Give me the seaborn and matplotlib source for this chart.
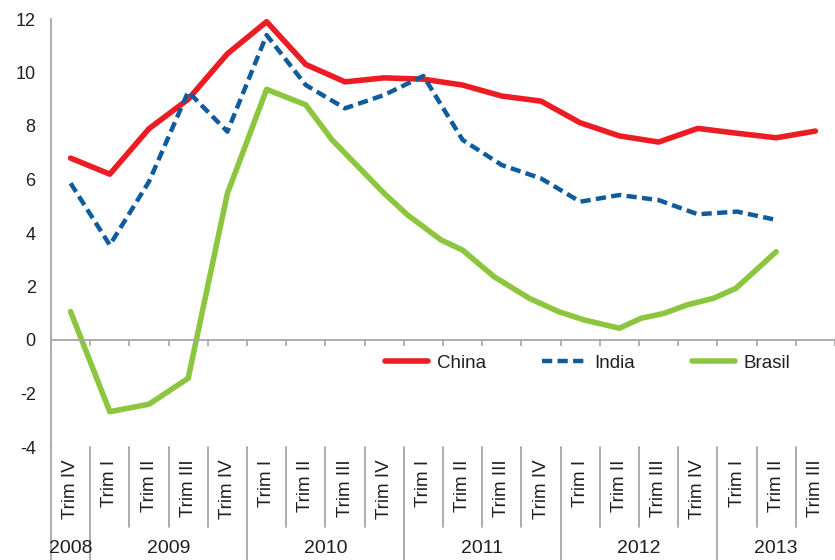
import numpy as np
import pandas as pd
import matplotlib
matplotlib.use("Agg")
import matplotlib.pyplot as plt
import matplotlib.transforms as mtransforms
import seaborn as sns

# ---- data ----
quarters = ["Trim IV",
            "Trim I", "Trim II", "Trim III", "Trim IV",
            "Trim I", "Trim II", "Trim III", "Trim IV",
            "Trim I", "Trim II", "Trim III", "Trim IV",
            "Trim I", "Trim II", "Trim III", "Trim IV",
            "Trim I", "Trim II", "Trim III"]
years = ["2008", "2009", "2010", "2011", "2012", "2013"]
year_counts = [1, 4, 4, 4, 4, 3]

china = [6.8, 6.2, 7.9, 9.0, 10.7, 11.9, 10.3, 9.65, 9.8, 9.75,
         9.53, 9.12, 8.93, 8.12, 7.63, 7.4, 7.91, 7.73, 7.56, 7.81]
india = [5.86, 3.55, 5.92, 9.28, 7.79, 11.4, 9.53, 8.66, 9.16, 9.87,
         7.48, 6.54, 6.04, 5.17, 5.42, 5.23, 4.7, 4.8, 4.49]
brasil_pos = [0, 1, 2, 3, 4, 5, 6, 6.67, 8, 8.6, 9.45, 10, 10.8, 11.7,
              12.45, 13.1, 14, 14.55, 15.15, 15.72, 16.4, 16.97, 18]
brasil = [1.06, -2.68, -2.40, -1.43, 5.48, 9.37, 8.79, 7.48, 5.48, 4.67,
          3.74, 3.36, 2.37, 1.56, 1.06, 0.75, 0.44, 0.81, 1.0, 1.31,
          1.56, 1.93, 3.30]

df_china = pd.DataFrame({"pos": np.arange(len(china)), "value": china})
df_india = pd.DataFrame({"pos": np.arange(len(india)), "value": india})
df_brasil = pd.DataFrame({"pos": brasil_pos, "value": brasil})

# ---- style ----
sns.set_theme(style="white")
plt.rcParams["font.family"] = ["Liberation Sans", "DejaVu Sans"]
plt.rcParams["axes.unicode_minus"] = False
TXT = "#231F20"
GRID = "#A6A6A6"
RED = "#ED1C24"
BLUE = "#0E5C9E"
GREEN = "#8CC63F"

fig = plt.figure(figsize=(8.35, 5.6), dpi=100)
ax = fig.add_axes([51 / 835, 1 - 447 / 560, 1 - 51 / 835, (447 - 19) / 560])

sns.lineplot(data=df_china, x="pos", y="value", ax=ax, color=RED, lw=4.0,
             label="China", legend=False, solid_capstyle="round", sort=False)
sns.lineplot(data=df_india, x="pos", y="value", ax=ax, color=BLUE, lw=3.2,
             label="India", legend=False, sort=False)
sns.lineplot(data=df_brasil, x="pos", y="value", ax=ax, color=GREEN, lw=4.0,
             label="Brasil", legend=False, solid_capstyle="round", sort=False)
line_china, line_india, line_brasil = ax.lines[0], ax.lines[1], ax.lines[2]
line_india.set_dashes([2.3, 1.2])
line_india.set_dash_capstyle("butt")

n = len(quarters)
ax.set_xlim(-0.5, n - 0.5)
ax.set_ylim(-4, 12)
ax.set_yticks(np.arange(-4, 13, 2))
ax.set_xticks(np.arange(-0.5, n, 1))
ax.set_xticklabels([])
ax.set_xlabel("")
ax.set_ylabel("")

for s in ["top", "right"]:
    ax.spines[s].set_visible(False)
ax.spines["left"].set_color(GRID)
ax.spines["left"].set_linewidth(1.3)
ax.spines["bottom"].set_position(("data", 0))
ax.spines["bottom"].set_color(GRID)
ax.spines["bottom"].set_linewidth(1.3)
ax.tick_params(axis="y", direction="out", length=5, width=1.2, color=GRID,
               labelsize=13, labelcolor=TXT, pad=6)
ax.tick_params(axis="x", direction="out", length=4, width=1.2, color=GRID,
               bottom=True)

# category labels below the plot
trans = mtransforms.blended_transform_factory(ax.transData, ax.transAxes)
for i, q in enumerate(quarters):
    ax.text(i, -0.03, q, transform=trans, rotation=90, ha="center", va="top",
            fontsize=13.5, color=TXT)

bounds = np.cumsum([0] + year_counts) - 0.5
for j, y in enumerate(years):
    c = (bounds[j] + bounds[j + 1]) / 2
    ax.text(c, -0.236, y, transform=trans, ha="center", va="center",
            fontsize=14, color=TXT)

year_b = set(np.round(bounds[:-1], 2))
for b in np.arange(-0.5, n - 0.5, 1):
    y_end = -0.264 if round(b, 2) in year_b else -0.187
    ax.plot([b, b], [0, y_end], transform=trans, color=GRID, lw=1.3,
            clip_on=False)

leg = ax.legend(handles=[line_china, line_india, line_brasil],
                labels=["China", "India", "Brasil"], ncol=3,
                loc="center left", bbox_to_anchor=(0.426, 0.196),
                frameon=False, fontsize=13.5, handlelength=2.3,
                handletextpad=0.48, columnspacing=3.0, borderpad=0,
                borderaxespad=0)
for t in leg.get_texts():
    t.set_color(TXT)

fig.savefig("out.png", dpi=100)
